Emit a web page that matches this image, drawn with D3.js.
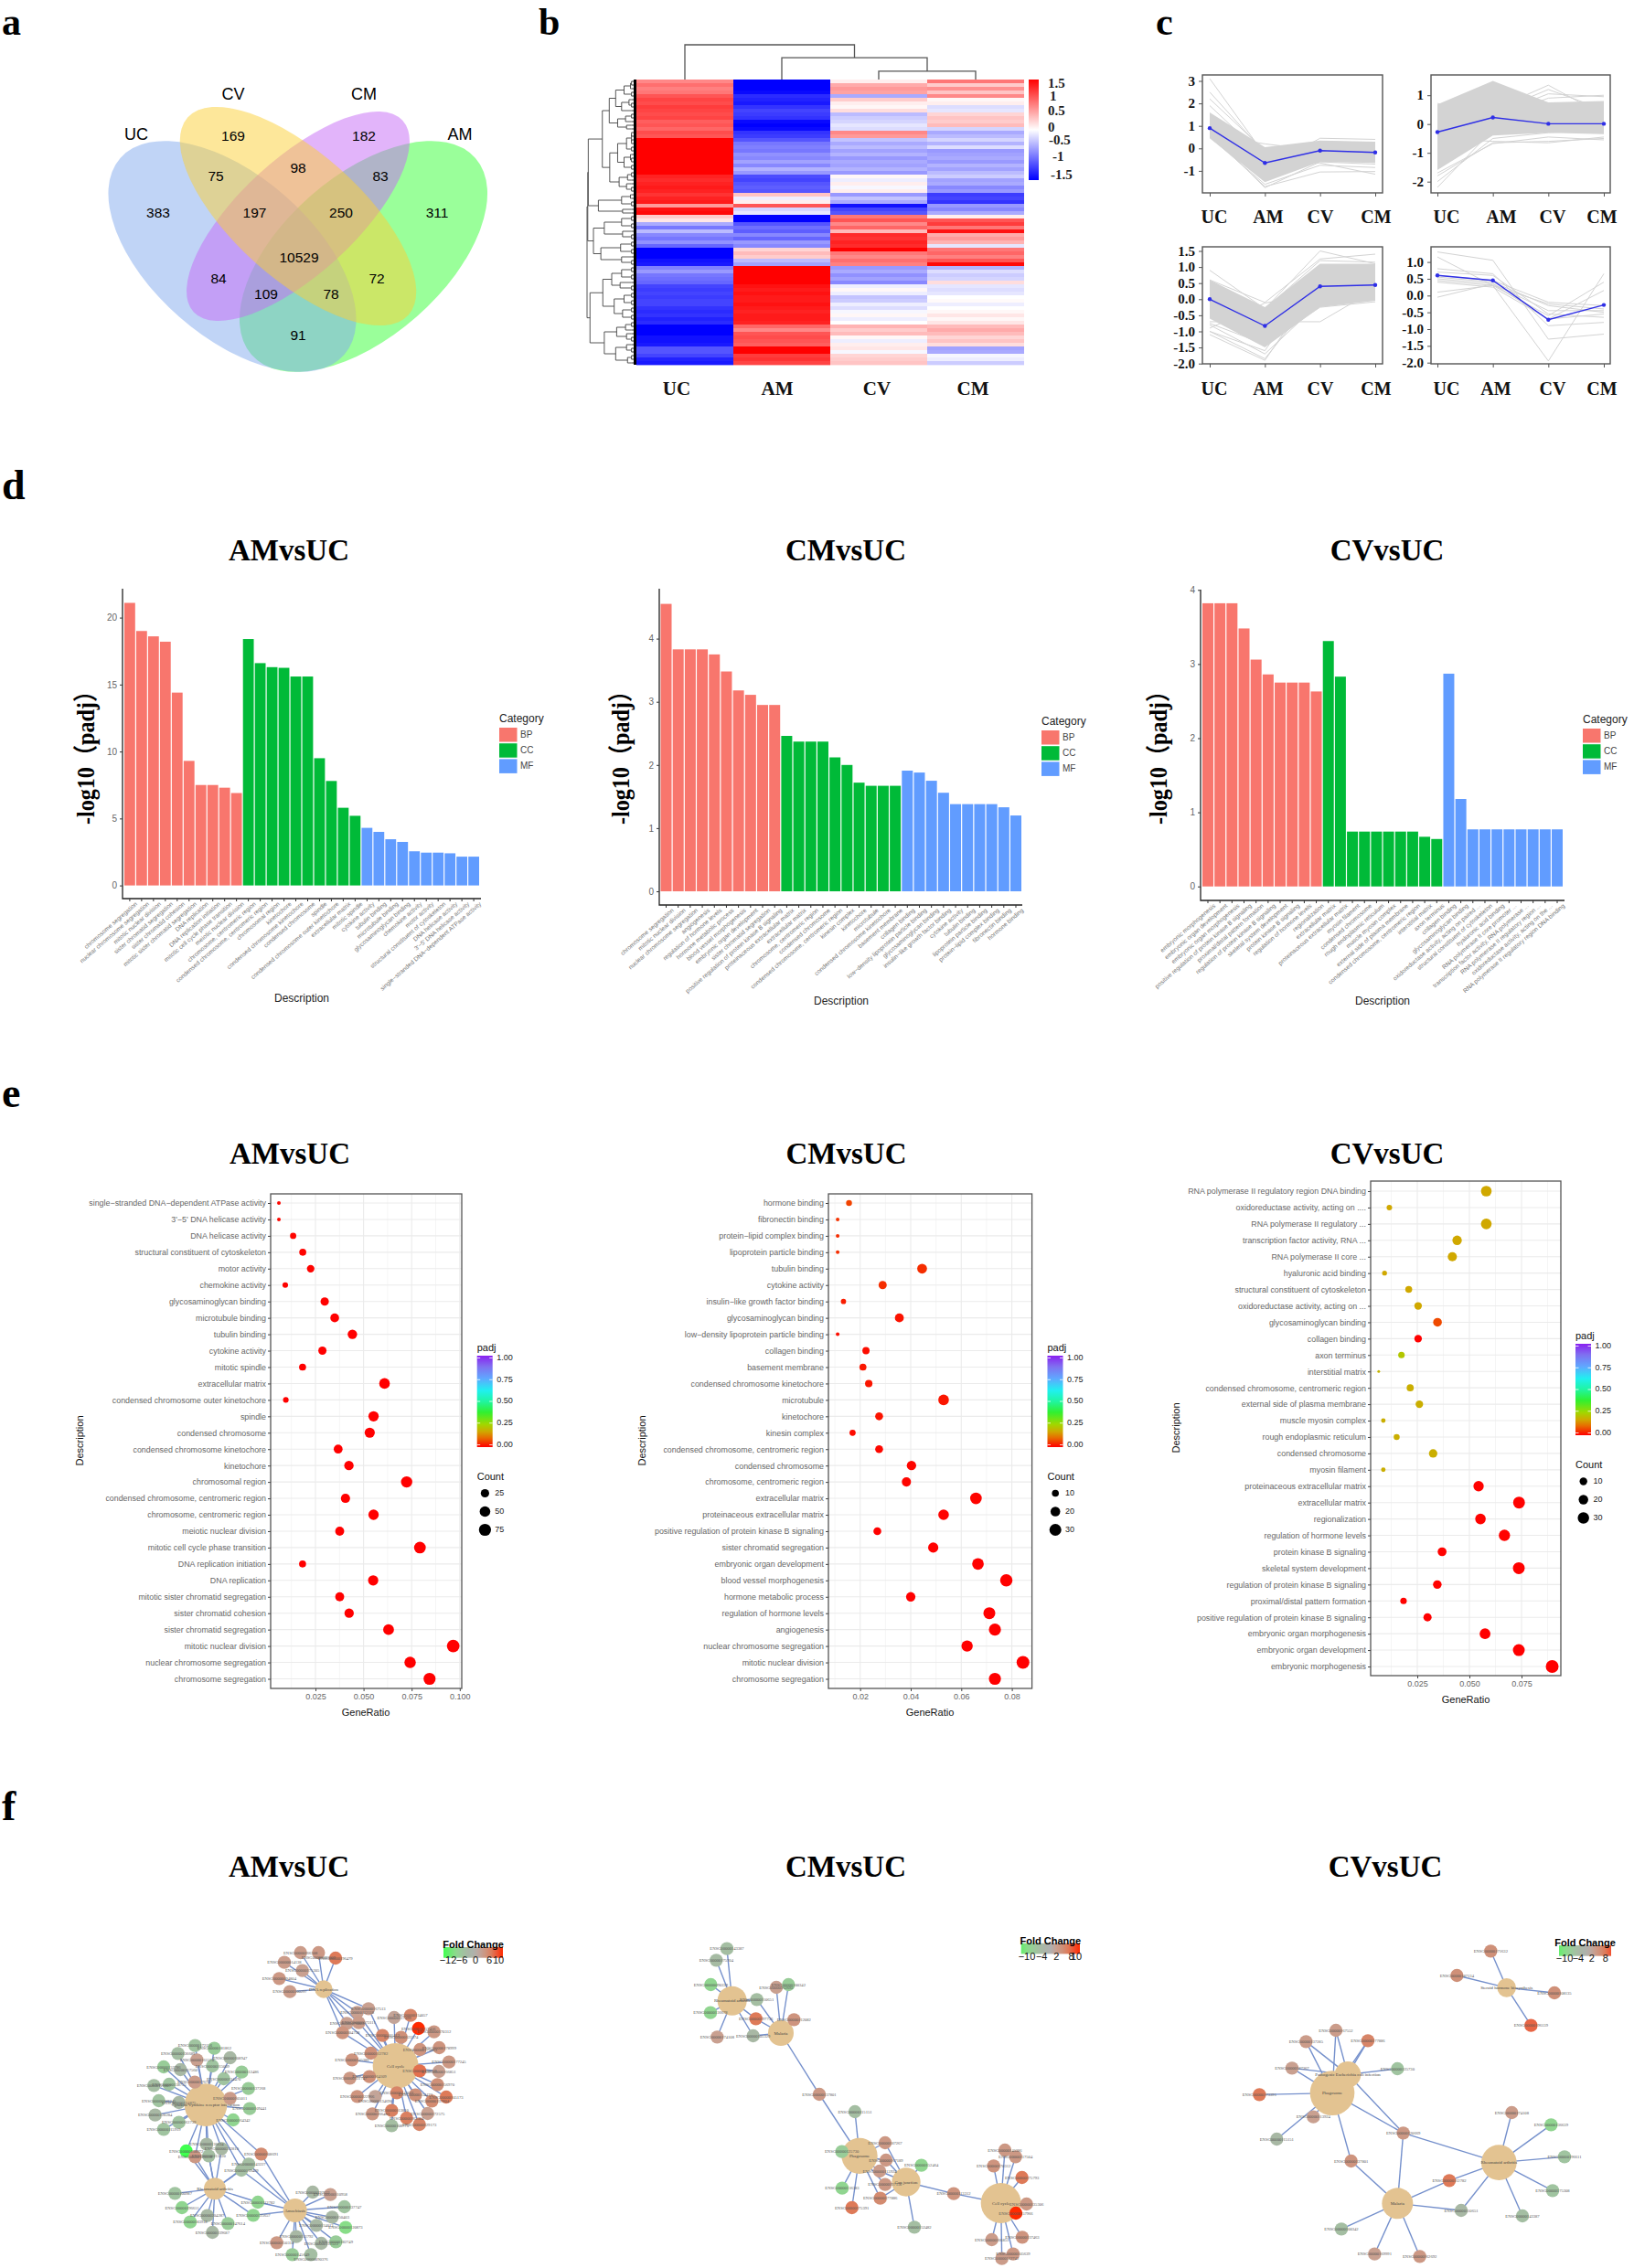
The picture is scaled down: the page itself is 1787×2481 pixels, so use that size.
<!DOCTYPE html>
<html><head><meta charset="utf-8">
<style>html,body{margin:0;padding:0;background:#fff}svg{display:block}</style>
<script src="https://cdn.jsdelivr.net/npm/d3@7"></script></head><body>
<svg id="fig" width="1787" height="2481"></svg>
<script>
/* ---------- DATA ---------- */
const SERIF="'Liberation Serif','Noto Sans CJK SC',serif", SANS="'Liberation Sans',Arial,sans-serif";
const panelLetters=["a","b","c","d","e","f"];
const vennSets=["UC","CV","CM","AM"];
const vennCounts=[169,182,75,98,83,383,197,250,311,10529,84,72,109,78,91];
const groups=["UC","AM","CV","CM"];
const heatUC=[.7,.85,.75,.8,1,1.1,1.05,1.15,1.1,1.05,1.1,.95,1,.9,1.05,1,1.5,1.5,1.5,1.5,1.5,1.5,1.5,1.5,1.5,1.5,1.3,1.25,1.3,1.35,1.3,1.2,1.3,1.35,.6,1.4,1.45,.3,.15,-.5,-.8,-.4,-.7,-.8,-.65,-.9,-1.5,-1.5,-1.5,-1.4,-1.35,-.75,-.6,-.8,-.85,-.9,-1.1,-1.15,-1.1,-1.15,-1.1,-1.1,-1.2,-1.25,-1.2,-1.3,-1.25,-1.5,-1.5,-1.5,-1.4,-1.4,-1.35,-1,-1,-1.1,-1.3,-1.35];
const heatAM=[-1.5,-1.5,-1.5,-1.45,-1.25,-1.3,-1.35,-1.2,-1.1,-1.15,-1.2,-1.45,-1.5,-1.45,-1.2,-1.15,-1,-.8,-.75,-.8,-.65,-.7,-.55,-.7,-.45,-.6,-1.05,-1.1,-1,-.95,-1,.35,-.1,.1,1,-.25,-.15,-1.5,-1.5,-1,-.85,-.95,-.7,-.9,-.6,-.7,.25,.4,.3,-.4,-.55,1.5,1.5,1.5,1.5,1.5,1.4,1.35,1.4,1.35,1.35,1.4,1.35,1.3,1.35,1.35,1.3,.9,.7,1,1.05,1,.95,1.5,1.5,1.15,1.2,1.1];
const heatCV=[.1,.5,.6,.55,-.5,.3,.1,.05,.2,-.4,-.3,-.25,-.15,-.2,.7,.6,-.35,-.5,-.4,-.55,-.45,-.6,-.5,-.55,-.45,-.6,.05,-.1,.1,-.05,.1,-.6,-.35,-.5,-1.4,-1.1,-1,.8,1,.7,.9,.4,1.25,1.2,1.3,1.25,1.5,.8,.7,.85,.75,-.6,-.5,-.65,-.55,-.7,-.1,.05,-.1,-.35,-.3,-.1,-.2,-.05,.05,-.1,0,.45,.3,.4,.05,-.1,.1,.15,-.05,.25,.3,.35];
const heatCM=[.8,.3,.65,.35,.7,.05,.1,-.2,-.15,.25,.35,.3,.4,-.25,-.5,-.4,-.25,-.45,-.2,-.6,-.55,-.5,-.6,-.45,-.55,-.4,-.3,-.55,-.5,-.7,-.6,-1.15,-1.1,-1.2,-.6,-.7,-.5,.1,1,1.15,.8,1.4,.5,.6,.45,-.15,.8,.9,.75,1,1.45,-.45,-.2,-.3,-.25,.2,-.15,-.2,-.15,0,.03,-.1,0,.05,.15,.05,.15,.4,.5,.4,.25,.35,.2,-.55,-.5,-.05,-.1,-.3];
const heatTicks=[1.5,1,.5,0,-.5,-1,-1.5];
const colTree=[1,"UC",[.63,"AM",[.24,"CV","CM"]]];
const rowA1a=[.55,[.42,[.25,[.12,2,1],2],[.3,[.15,1,2],1]],[.38,[.22,2,1],[.2,1,1]]];
const rowA1b=[.54,[.38,[.2,[.1,2,2],2],[.25,[.12,1,2],2]],[.35,[.18,2,1],[.2,1,2]]];
const rowA2=[.77,[.3,[.12,1,1],2],[.28,1,1]];
const rowB=[.87,[.65,[.3,2,2],[.28,1,2]],[.72,[.32,2,2],[.3,1,2]]];
const rowC=[.94,[.68,[.5,[.3,2,2],[.33,1,2]],[.45,[.25,2,2],[.28,2,[.1,1,1]]]],[.65,[.4,[.22,2,1],[.2,1,2]],[.42,[.2,1,2],[.18,2,1]]]];
const rowTree=[1,[.985,[.975,[.69,rowA1a,rowA1b],rowA2],rowB],rowC];

const k1Upper=[1.6,.05,.35,.3],k1Lower=[.45,-1.5,-.6,-.65],k1Mean=[.9,-.65,-.1,-.18];
const k1Lines=[[3.1,-.3,-.2,-.3],[2.5,-.2,.1,0],[2.2,-.1,-.15,-.1],[1.9,-.4,.2,.1],[.6,-1.7,-1.05,-1.03],[.5,-1.6,-.75,-.85],[.7,-1.75,-.6,-.7],[.5,-.5,-.65,-1.15],[.9,-.9,.45,.4],[.8,-.6,.3,.25],[.6,.2,-.1,.1]];
const k2Upper=[.68,1.5,.75,.8],k2Lower=[-1.6,-.4,-.3,-.35],k2Mean=[-.28,.23,.01,.01];
const k2Lines=[[-2.2,-.2,-.1,-.3],[-2,-.5,-.3,-.2],[-1.8,-.65,-.6,-.5],[-1.7,-.68,-.45,-.55],[.1,.5,1.35,.3],[0,.4,1.2,.5],[-.3,.3,1.05,.95],[.2,.2,.9,1],[-.5,-.6,-.65,-.45],[.72,.1,.2,.4]];
const k3Upper=[.6,-.25,1.1,1.1],k3Lower=[-.6,-1.5,-.25,-.05],k3Mean=[0,-.83,.4,.44];
const k3Lines=[[.9,-.3,1.5,1.1],[-1.1,-1.9,.6,.9],[-1,-1.85,.3,.2],[-.7,-.7,-.7,.3],[-.8,-1.7,-.1,.1],[.6,-.1,1.25,1.4],[-.9,-.12,.2,.1],[-1,-1.6,.9,1],[-.75,-1.4,-.25,-.08],[.3,-.3,1.2,1.15]];
const k4Mean=[.6,.45,-.72,-.28];
const k4Lines=[[1.3,1.05,-1.3,-1.15],[1.15,.3,-1.95,.65],[.8,.65,-.9,-.8],[.7,.6,-.55,-.65],[.6,.45,-.2,-.3],[.55,.4,-.3,-.5],[.5,.35,-.45,-.45],[.45,.3,-.6,.4],[.4,.25,-.7,.15],[.1,.3,-.25,-.4],[-.05,.35,-.7,-.55]];

const barCategories=["BP","CC","MF"];
const amBarTerms=["chromosome segregation","nuclear chromosome segregation","mitotic nuclear division","sister chromatid segregation","sister chromatid cohesion","mitotic sister chromatid segregation","DNA replication","DNA replication initiation","mitotic cell cycle phase transition","meiotic nuclear division","chromosome, centromeric region","condensed chromosome, centromeric region","chromosomal region","kinetochore","condensed chromosome kinetochore","condensed chromosome","spindle","condensed chromosome outer kinetochore","extracellular matrix","mitotic spindle","cytokine activity","tubulin binding","microtubule binding","glycosaminoglycan binding","chemokine activity","motor activity","structural constituent of cytoskeleton","DNA helicase activity","3'−5' DNA helicase activity","single−stranded DNA−dependent ATPase activity"];
const amBarValues=[21.1,19,18.6,18.2,14.4,9.3,7.5,7.5,7.3,6.9,18.4,16.6,16.3,16.25,15.6,15.6,9.5,7.8,5.8,5.2,4.3,4,3.45,3.25,2.55,2.45,2.45,2.4,2.15,2.15];
const cmBarTerms=["chromosome segregation","mitotic nuclear division","nuclear chromosome segregation","angiogenesis","regulation of hormone levels","hormone metabolic process","blood vessel morphogenesis","embryonic organ development","sister chromatid segregation","positive regulation of protein kinase B signaling","proteinaceous extracellular matrix","extracellular matrix","chromosome, centromeric region","condensed chromosome","condensed chromosome, centromeric region","kinesin complex","kinetochore","microtubule","condensed chromosome kinetochore","basement membrane","collagen binding","low−density lipoprotein particle binding","glycosaminoglycan binding","insulin−like growth factor binding","cytokine activity","tubulin binding","lipoprotein particle binding","protein−lipid complex binding","fibronectin binding","hormone binding"];
const cmBarValues=[4.55,3.83,3.83,3.83,3.75,3.48,3.18,3.11,2.95,2.95,2.46,2.37,2.37,2.37,2.12,2,1.72,1.67,1.67,1.67,1.91,1.88,1.75,1.56,1.38,1.38,1.38,1.38,1.33,1.2];
const cvBarTerms=["embryonic morphogenesis","embryonic organ development","embryonic organ morphogenesis","positive regulation of protein kinase B signaling","proximal/distal pattern formation","regulation of protein kinase B signaling","skeletal system development","protein kinase B signaling","regulation of hormone levels","regionalization","extracellular matrix","proteinaceous extracellular matrix","myosin filament","condensed chromosome","rough endoplasmic reticulum","muscle myosin complex","external side of plasma membrane","condensed chromosome, centromeric region","interstitial matrix","axon terminus","collagen binding","glycosaminoglycan binding","oxidoreductase activity, acting on paired ...","structural constituent of cytoskeleton","hyaluronic acid binding","RNA polymerase II core promoter ...","transcription factor activity, RNA polymerase ...","RNA polymerase II regulatory region ...","oxidoreductase activity, acting on the ...","RNA polymerase II regulatory region DNA binding"];
const cvBarValues=[3.82,3.82,3.82,3.48,3.06,2.86,2.75,2.75,2.75,2.63,3.31,2.83,.74,.74,.74,.74,.74,.74,.67,.64,2.87,1.18,.77,.77,.77,.77,.77,.77,.77,.77];

const amDotTerms=["single−stranded DNA−dependent ATPase activity","3'−5' DNA helicase activity","DNA helicase activity","structural constituent of cytoskeleton","motor activity","chemokine activity","glycosaminoglycan binding","microtubule binding","tubulin binding","cytokine activity","mitotic spindle","extracellular matrix","condensed chromosome outer kinetochore","spindle","condensed chromosome","condensed chromosome kinetochore","kinetochore","chromosomal region","condensed chromosome, centromeric region","chromosome, centromeric region","meiotic nuclear division","mitotic cell cycle phase transition","DNA replication initiation","DNA replication","mitotic sister chromatid segregation","sister chromatid cohesion","sister chromatid segregation","mitotic nuclear division","nuclear chromosome segregation","chromosome segregation"];
const amDotRatio=[.006,.006,.0134,.0184,.0225,.0093,.0298,.035,.0442,.0286,.0183,.0609,.0096,.0552,.0532,.0368,.0424,.0724,.0406,.0552,.0376,.0793,.0183,.055,.0376,.0425,.063,.0966,.0742,.0843];
const amDotCount=[5,5,12,17,21,9,28,33,41,27,17,57,9,52,50,34,40,68,38,52,35,74,17,51,35,40,59,90,69,79];
const amDotPadj=[.007,.007,.004,.004,.003,.003,.0006,.0003,.0001,.00005,.00001,.00001,.00001,.00001,.00001,.00001,.00001,.00001,.00001,.00001,.00001,.00001,.00001,.00001,.00001,.00001,.00001,.00001,.00001,.00001];
const cmDotTerms=["hormone binding","fibronectin binding","protein−lipid complex binding","lipoprotein particle binding","tubulin binding","cytokine activity","insulin−like growth factor binding","glycosaminoglycan binding","low−density lipoprotein particle binding","collagen binding","basement membrane","condensed chromosome kinetochore","microtubule","kinetochore","kinesin complex","condensed chromosome, centromeric region","condensed chromosome","chromosome, centromeric region","extracellular matrix","proteinaceous extracellular matrix","positive regulation of protein kinase B signaling","sister chromatid segregation","embryonic organ development","blood vessel morphogenesis","hormone metabolic process","regulation of hormone levels","angiogenesis","nuclear chromosome segregation","mitotic nuclear division","chromosome segregation"];
const cmDotRatio=[.0156,.0111,.0111,.0111,.0445,.0289,.0134,.0355,.0111,.0223,.0211,.0234,.053,.0275,.017,.0275,.0403,.0383,.0658,.053,.0268,.0489,.0666,.0778,.04,.0711,.0733,.0623,.0844,.0733];
const cmDotCount=[7,5,5,5,20,13,6,16,5,10,9.5,10.5,24,12,7.5,12,18,17,30,24,12,22,30,35,18,32,33,28,38,33];
const cmDotPadj=[.063,.047,.042,.042,.042,.042,.027,.017,.013,.012,.022,.021,.021,.019,.01,.0076,.0043,.0043,.0034,.0034,.0011,.0011,.0013,.0007,.0003,.0002,.00015,.00015,.00015,.00003];
const cvDotTerms=["RNA polymerase II regulatory region DNA binding","oxidoreductase activity, acting on ....","RNA polymerase II regulatory ...","transcription factor activity, RNA ...","RNA polymerase II core ...","hyaluronic acid binding","structural constituent of cytoskeleton","oxidoreductase activity, acting on ...","glycosaminoglycan binding","collagen binding","axon terminus","interstitial matrix","condensed chromosome, centromeric region","external side of plasma membrane","muscle myosin complex","rough endoplasmic reticulum","condensed chromosome","myosin filament","proteinaceous extracellular matrix","extracellular matrix","regionalization","regulation of hormone levels","protein kinase B signaling","skeletal system development","regulation of protein kinase B signaling","proximal/distal pattern formation","positive regulation of protein kinase B signaling","embryonic organ morphogenesis","embryonic organ development","embryonic morphogenesis"];
const cvDotRatio=[.0581,.0116,.0581,.0441,.0418,.0093,.0209,.0254,.0347,.0254,.0174,.0065,.0216,.026,.0087,.0151,.0326,.0087,.0544,.0738,.0553,.0668,.0369,.0737,.0346,.0184,.0299,.0575,.0737,.0897];
const cvDotCount=[23,5,23,17,16,4,8,10,14,10,7,2.5,8.5,10,3.5,6,13,3.5,21,29,22,26,14.5,29,13.5,7,12,23,29,35];
const cvDotPadj=[.17,.17,.17,.17,.17,.17,.17,.17,.07,.0013,.22,.19,.18,.18,.18,.18,.18,.18,.0015,.0015,.0023,.0018,.0018,.0018,.0015,.0015,.00033,.00015,.00015,.00015];
const padjLegendTicks=[1,.75,.5,.25,0];

/* gene tuples: layout x, layout y, fold change, id suffix, hubs linked, optional label shift */
const amHubs=[[998,540,75,"Cell cycle"],[762,288,29,"DNA replication"],[375,668,70,"Cytokine-cytokine receptor interaction"],[405,943,36,"Rheumatoid arthritis"],[668,1014,39,"Amoebiasis"]];
const amGenes=[[686,168,2.5,"166508",[1]],[745,168,3,"093009",[1],5],[801,186,6,"196479",[1]],[633,200,2.5,"014138",[1]],[692,227,2,"175305",[1]],[616,253,3,"094804",[1]],[651,296,2.5,"100297",[1]],
[909,352,2,"167513",[1,0]],[872,364,2,"112118",[1,0]],[838,400,2,"076003",[1,0]],[877,398,2.5,"073111",[1,0]],[824,431,3.5,"104738",[1,0]],
[993,381,1.5,"117399",[0]],[1047,374,5,"134057",[0]],[1073,417,10,"157456",[0]],[1124,428,3,"170312",[0]],[955,440,5,"101412",[0]],[1016,446,4,"123374",[0]],[1078,486,3.5,"175063",[0]],[1141,480,3.5,"178999",[0]],[917,498,4,"112782",[0]],[855,520,3.5,"145386",[0]],[1173,527,3,"177245",[0]],[1077,556,6.5,"159259",[0]],[1140,558,2,"166851",[0]],[848,580,3,"131747",[0]],[912,575,4,"164109",[0]],[1135,601,4,"156970",[0]],[1164,642,6,"105173",[0]],[872,640,3.5,"122966",[0]],[931,640,1.5,"134690",[0],5],[1002,628,5,"143621",[0]],[1063,635,4,"154473",[0]],[1117,655,4.5,"137804",[0]],[1103,696,2,"172575",[0]],[985,686,5.5,"113810",[0]],[922,697,3,"166483",[0]],[1034,711,5.5,"165304",[0]],[1076,732,5,"129173",[0]],[985,736,-4,"108773",[0]],
[340,473,-5,"172156",[2]],[403,482,-6,"181862",[2]],[284,499,-4,"136689",[2]],[455,513,-3,"108947",[2]],[346,520,2,"161570",[2]],[397,540,-5,"115009",[2]],[237,543,-6,"153786",[2]],[292,552,-3,"117560",[2]],[493,560,-6,"112486",[2]],[434,582,-5,"134470",[2]],[205,604,-4,"121807",[2]],[255,600,-5,"138755",[2]],[339,593,2.5,"176767",[2]],[515,614,-6,"137268",[2]],[455,646,2.5,"105011",[2]],[221,654,-5,"169245",[2]],[287,660,-3,"124875",[2]],[519,680,-6,"109441",[2]],[209,701,-3,"128284",[2]],[465,717,-7,"164342",[2]],[287,725,-5,"163739",[2]],[237,748,-5,"115919",[2]],
[311,819,-12,"118972",[2,3]],[340,838,3,"125538",[2,3]],[378,797,-3,"136634",[2,3]],[385,835,-4,"113520",[2,3]],[427,811,-3,"232810",[2,3]],
[557,829,4.5,"108691",[2,4]],[516,862,-4,"143227",[2,3,4]],[492,882,-4,"169429",[2,3,4]],
[274,958,-5,"100987",[3]],[297,1005,-7,"196611",[3]],[380,1031,-3,"204287",[3]],[324,1052,-7,"183918",[3]],[448,1057,-6,"147614",[3]],[397,1086,-3,"139687",[3]],
[546,987,-7,"112782",[3,4]],[531,1030,-7,"125657",[3,4]],
[726,954,-3,"197632",[4]],[784,962,2,"110958",[4]],[830,1002,-5,"137747",[4]],[790,1036,-3,"150403",[4]],[738,1063,-3,"134013",[4]],[834,1070,-8,"120873",[4]],[672,1100,-3,"113792",[4]],[608,1120,3,"150318",[4]],[754,1122,-3,"131522",[4]],[802,1117,-6,"182749",[4]],[659,1159,-6,"145649",[4]],[720,1159,-4,"090376",[4],5]];
const amFcTicks=[-12,-6,0,6,10];
const cmHubs=[[362,326,48,"Rheumatoid arthritis"],[522,432,42,"Malaria"],[780,835,59,"Phagosome"],[933,921,47,"Gap junction"],[1244,990,66,"Cell cycle"]];
const cmGenes=[[345,155,-4,"143387",[0]],[310,193,-3.5,"175704",[0]],[292,273,-7,"090339",[0]],[291,365,-7,"136678",[0]],[313,445,2,"174108",[0]],
[443,322,-4,"110651",[0,1]],[440,385,6,"197736",[0,1]],[431,441,-3,"105329",[0,1]],
[507,282,2,"162692",[1]],[547,273,-6,"100342",[1]],[565,388,3.5,"112082",[1]],
[648,633,3,"137801",[1,2]],
[765,690,-4,"115151",[2]],[722,821,-6,"125730",[2]],[723,941,-7,"136383",[2]],[755,1005,6,"175391",[2]],
[864,792,3,"187267",[2,3]],[867,849,3,"167189",[2,3]],[846,885,2.5,"113924",[2,3]],[864,929,3,"127152",[2,3]],[848,974,4.5,"177886",[2,3]],
[983,866,-7,"152464",[3]],[960,1069,-4,"152482",[3]],
[1089,959,3.5,"113312",[3,4]],
[1257,816,3,"145386",[4]],[1292,838,3,"117504",[4]],[1220,868,3.5,"170312",[4]],[1313,906,6,"175793",[4]],[1328,993,3,"135306",[4]],[1293,1023,10,"157966",[4]],[1314,1102,3.5,"137463",[4]],[1214,1110,2.5,"166851",[4]],[1284,1157,3,"105639",[4]],[1247,1172,2.5,"112742",[4]]];
const cmFcTicks=[-10,-4,2,8,10];
const cvHubs=[[1043,283,31,"Steroid hormone biosynthesis"],[522,568,43,"Pathogenic Escherichia coli infection"],[471,629,73,"Phagosome"],[685,991,51,"Malaria"],[1018,857,58,"Rheumatoid arthritis"]];
const cvGenes=[[991,163,4,"171632",[0]],[880,243,4,"187134",[0]],[1200,300,4,"108135",[0]],[1123,407,7,"196139",[0]],
[483,423,2.5,"167552",[1,2]],[385,460,2.5,"137285",[1,2]],[588,457,5,"177886",[1,2]],[339,547,2,"187367",[1,2]],
[232,634,6,"173391",[2]],[409,707,2,"113924",[2]],[289,780,-3,"115151",[2]],
[685,549,-5,"125730",[1]],
[704,760,3,"120669",[1,2,3,4]],[533,852,3.5,"137801",[2,3]],
[855,916,6,"112782",[3,4]],[894,1014,-3,"110651",[3,4]],
[501,1075,-4,"100342",[3]],[610,1157,2,"169991",[3]],[758,1165,3,"162692",[3]],
[1060,693,2.5,"174108",[4]],[1189,733,-7,"136639",[4]],[1233,838,-5,"196611",[4]],[1194,949,-5,"175308",[4]],[1095,1032,-4,"143387",[4]]];
const cvFcTicks=[-10,-4,2,8];

/* ---------- HELPERS ---------- */
const svg=d3.select("#fig");
function text(g,x,y,s,o={}){const t=g.append("text").attr("x",x).attr("y",y).text(s)
  .attr("font-family",o.family||SANS).attr("font-size",o.size||10).attr("fill",o.fill||"#000")
  .attr("text-anchor",o.anchor||"start");
  if(o.weight)t.attr("font-weight",o.weight);
  if(o.rotate!=null)t.attr("transform",`rotate(${o.rotate} ${x} ${y})`);
  if(o.base)t.attr("dominant-baseline",o.base);
  return t;}
function clean(sel){sel.select(".domain").remove();return sel;}

/* panel letters */
[[2,38,42],[589,38,42],[1264,38,42],[2,546,46],[2,1211,46],[2,1991,46]].forEach((p,i)=>
  text(svg,p[0],p[1],panelLetters[i],{family:SERIF,size:p[2],weight:"bold"}));

/* ---------- a: VENN ---------- */
(function(){
 const g=svg.append("g");
 const shapes={AM:[397.5,280.5,163,88,-41.3,"#35ff35"],UC:[254,280.5,163,88,41.3,"#81a9ed"],CM:[326,236.5,155,63,-42.5,"#c569f5"],CV:[326,236.5,162,69,41.8,"#fbcf35"]};
 ["AM","UC","CM","CV"].forEach(k=>{const s=shapes[k];
  g.append("ellipse").attr("cx",s[0]).attr("cy",s[1]).attr("rx",s[2]).attr("ry",s[3])
   .attr("transform",`rotate(${s[4]} ${s[0]} ${s[1]})`).attr("fill",s[5]).attr("fill-opacity",.5);});
 const lp=[[149,147],[255,103],[398,103],[503,147]];
 vennSets.forEach((s,i)=>text(g,lp[i][0],lp[i][1]+6,s,{size:18,anchor:"middle"}));
 const cp=[[255,148],[398,148],[236,192],[326,183],[416,192],[173,232],[278.5,232],[373,232],[478,232],[327,281],[239,304],[412,304],[291,321],[362,321],[326,366]];
 vennCounts.forEach((c,i)=>text(g,cp[i][0],cp[i][1]+5.5,c,{size:15.5,anchor:"middle"}));
})();

/* ---------- b: HEATMAP ---------- */
(function(){
 const g=svg.append("g");
 const heat=[heatUC,heatAM,heatCV,heatCM];
 const x=d3.scaleBand().domain(groups).range([696,1120]);
 const y=d3.scaleBand().domain(d3.range(heatUC.length)).range([87,399]);
 const col=d3.scaleLinear().domain([-1.5,0,1.5]).range(["#0000ff","#ffffff","#ff0000"]);
 groups.forEach((n,j)=>g.selectAll(null).data(heat[j]).join("rect")
   .attr("x",x(n)).attr("width",x.bandwidth()).attr("y",(d,i)=>y(i)).attr("height",y.bandwidth()+.4)
   .attr("fill",d=>col(d)));
 const hT=d3.scaleLinear().domain([0,1]).range([87,49]);
 (function walk(n){ if(typeof n==="string")return {x:x(n)+x.bandwidth()/2,h:0};
   const a=walk(n[1]),b=walk(n[2]);
   g.append("path").attr("d",`M${a.x},${hT(a.h)}V${hT(n[0])}H${b.x}V${hT(b.h)}`).attr("fill","none").attr("stroke","#555").attr("stroke-width",1.3);
   return {x:(a.x+b.x)/2,h:n[0]};})(colTree);
 const hL=d3.scaleLinear().domain([0,1]).range([696,642]);
 let row=0;
 (function walk(n){ if(typeof n==="number"){const r0=row;row+=n;
     for(let i=r0;i<row;i++)g.append("path").attr("d",`M${hL(.1)},${y(i)+2}H696`).attr("stroke","#222").attr("stroke-width",.9);
     g.append("path").attr("d",`M${hL(.1)},${y(r0)+2}V${y(row-1)+2}`).attr("stroke","#333").attr("stroke-width",.8);
     return {y:y(r0)+(y(row-1)-y(r0))/2+2,h:.1};}
   const a=walk(n[1]),b=walk(n[2]);
   g.append("path").attr("d",`M${hL(a.h)},${a.y}H${hL(n[0])}V${b.y}H${hL(b.h)}`).attr("fill","none").attr("stroke","#444").attr("stroke-width",.9);
   return {y:(a.y+b.y)/2,h:n[0]};})(rowTree);
 g.append("rect").attr("x",693).attr("y",87).attr("width",3).attr("height",312).attr("fill","#000");
 const defs=svg.append("defs"),lg=defs.append("linearGradient").attr("id","heatGrad").attr("x1",0).attr("x2",0).attr("y1",1).attr("y2",0);
 [[0,"#0000ff"],[.5,"#ffffff"],[1,"#ff0000"]].forEach(s=>lg.append("stop").attr("offset",s[0]).attr("stop-color",s[1]));
 g.append("rect").attr("x",1125).attr("y",87).attr("width",11).attr("height",110).attr("fill","url(#heatGrad)");
 const ty=[96,110,126,144,158,176,196], tx=[1146,1148,1146,1146,1147,1151,1149];
 heatTicks.forEach((t,i)=>text(g,tx[i],ty[i],String(t),{family:SERIF,size:15,weight:"bold",fill:"#222"}));
 groups.forEach((n,i)=>text(g,[740,850,959,1064][i],432,n,{family:SERIF,size:21,weight:"bold",anchor:"middle",fill:"#111"}));
})();

/* ---------- c: CLUSTER PROFILES ---------- */
function profile(o){
 const g=svg.append("g");
 const x=d3.scalePoint().domain(groups).range(o.xr);
 const y=d3.scaleLinear().domain([0,1]).range([o.y0,o.y0-o.ppu]);
 if(o.up){const area=d3.area().x((d,i)=>x(groups[i])).y0((d,i)=>y(o.low[i])).y1(d=>y(d));
   g.append("path").datum(o.up).attr("d",area).attr("fill","#d3d3d3");}
 const line=d3.line().x((d,i)=>x(groups[i])).y(d=>y(d));
 g.selectAll(null).data(o.lines).join("path").attr("d",line).attr("fill","none").attr("stroke","#d3d3d3").attr("stroke-width",1);
 g.append("path").datum(o.mean).attr("d",line).attr("fill","none").attr("stroke","#2f2fe6").attr("stroke-width",1.4);
 g.selectAll(null).data(o.mean).join("circle").attr("cx",(d,i)=>x(groups[i])).attr("cy",d=>y(d)).attr("r",2.2).attr("fill","#2f2fe6");
 g.append("rect").attr("x",o.box[0]).attr("y",o.box[1]).attr("width",o.box[2]-o.box[0]).attr("height",o.box[3]-o.box[1]).attr("fill","none").attr("stroke","#555").attr("stroke-width",1.4);
 const ax=g.append("g").attr("transform",`translate(0,${o.box[3]})`).call(d3.axisBottom(x).tickSize(4).tickFormat(""));
 clean(ax).selectAll("line").attr("stroke","#555");
 const ay=g.append("g").attr("transform",`translate(${o.box[0]},0)`).call(d3.axisLeft(y).tickValues(o.ticks).tickSize(4).tickFormat(""));
 clean(ay).selectAll("line").attr("stroke","#555");
 o.ticks.forEach(t=>text(g,o.box[0]-8,y(t)+5,d3.format(o.fmt)(t).replace("−","-"),{family:SERIF,size:15,weight:"bold",anchor:"end",fill:"#111"}));
 groups.forEach((n,i)=>text(g,o.lx[i],o.ly,n,{family:SERIF,size:20,weight:"bold",anchor:"middle",fill:"#111"}));
}
profile({xr:[1323,1504],box:[1315,82,1512,211],y0:162.3,ppu:24.6,ticks:[3,2,1,0,-1],fmt:"d",up:k1Upper,low:k1Lower,lines:k1Lines,mean:k1Mean,lx:[1328,1387,1444,1505],ly:244});
profile({xr:[1572,1754],box:[1565,82,1761,211],y0:135.7,ppu:31.5,ticks:[1,0,-1,-2],fmt:"d",up:k2Upper,low:k2Lower,lines:k2Lines,mean:k2Mean,lx:[1582,1642,1698,1752],ly:244});
profile({xr:[1323,1504],box:[1315,270,1512,398],y0:327.3,ppu:35.2,ticks:[1.5,1,.5,0,-.5,-1,-1.5,-2],fmt:".1f",up:k3Upper,low:k3Lower,lines:k3Lines,mean:k3Mean,lx:[1328,1387,1444,1505],ly:432});
profile({xr:[1572,1754],box:[1565,270,1761,398],y0:323.3,ppu:36.7,ticks:[1,.5,0,-.5,-1,-1.5,-2],fmt:".1f",lines:k4Lines,mean:k4Mean,lx:[1582,1636,1698,1752],ly:432});

/* ---------- d: BARS ---------- */
const catColor=d3.scaleOrdinal().domain(barCategories).range(["#F8766D","#00BA38","#619CFF"]);
function bars(o){
 const g=svg.append("g");
 text(g,o.titleX,613,o.title,{family:SERIF,size:33,weight:"bold",anchor:"middle"});
 const x=d3.scaleBand().domain(d3.range(o.values.length)).range(o.xr).paddingInner(.09);
 const y=d3.scaleLinear().domain([0,1]).range([o.y0,o.y0-o.ppu]);
 g.selectAll(null).data(o.values).join("rect").attr("x",(d,i)=>x(i)).attr("width",x.bandwidth())
  .attr("y",d=>y(d)).attr("height",d=>y(0)-y(d)).attr("fill",(d,i)=>catColor(barCategories[Math.floor(i/10)]));
 g.append("path").attr("d",`M${o.ax},${o.top}V${o.bottom}H${o.right}`).attr("fill","none").attr("stroke","#222").attr("stroke-width",1.3);
 const ay=g.append("g").attr("transform",`translate(${o.ax},0)`).call(d3.axisLeft(y).tickValues(o.ticks).tickSize(3).tickFormat(d3.format("d")));
 clean(ay).selectAll("text").attr("font-family",SANS).attr("font-size",10).attr("fill","#666");
 ay.selectAll("line").attr("stroke","#333");
 const ax=g.append("g").attr("transform",`translate(0,${o.bottom})`).call(d3.axisBottom(x).tickSize(3).tickFormat(i=>o.terms[i]));
 clean(ax).selectAll("line").attr("stroke","#333");
 ax.selectAll("text").attr("font-family",SANS).attr("font-size",6.6).attr("fill","#777").attr("text-anchor","end")
   .attr("transform","translate(3,0) rotate(-41)").attr("dy","0.4em").attr("dx","0");
 text(g,o.descX,o.descY,"Description",{size:12,anchor:"middle",fill:"#222",base:"middle"});
 text(g,o.ylabX,823,"-log10（padj）",{family:SERIF,size:27,weight:"bold",anchor:"middle",rotate:-90,base:"middle"})
   .attr("textLength",158).attr("lengthAdjust","spacingAndGlyphs");
 text(g,o.legX,o.legY,"Category",{size:12,fill:"#222"});
 barCategories.forEach((c,i)=>{g.append("rect").attr("x",o.legX).attr("y",o.legY+6+i*17.2).attr("width",19.5).attr("height",15.5).attr("fill",catColor(c));
   text(g,o.legX+23,o.legY+14+i*17.2,c,{size:10,fill:"#444",base:"middle"});});
}
bars({title:"AMvsUC",titleX:316,terms:amBarTerms,values:amBarValues,xr:[136,524],y0:968.6,ppu:14.65,ticks:[0,5,10,15,20],ax:134,top:644,bottom:983,right:526,descX:330,descY:1093,ylabX:97,legX:546,legY:790});
bars({title:"CMvsUC",titleX:925,terms:cmBarTerms,values:cmBarValues,xr:[722.5,1117],y0:975,ppu:69.1,ticks:[0,1,2,3,4],ax:721,top:644,bottom:990,right:1118,descX:920,descY:1096,ylabX:682,legX:1139,legY:793});
bars({title:"CVvsUC",titleX:1517,terms:cvBarTerms,values:cvBarValues,xr:[1315,1709],y0:969.7,ppu:81.1,ticks:[0,1,2,3,4],ax:1313,top:645,bottom:985,right:1711,descX:1512,descY:1096,ylabX:1270,legX:1731,legY:791});

/* ---------- e: DOT PLOTS ---------- */
const padjColor=d3.scaleLinear().domain([0,.1,.17,.25,.38,.5,.62,.75,.88,1]).range(["#ff0000","#e86a00","#d0a800","#a0d800","#30f030","#20f5a0","#20f0f0","#5fa8ff","#7f70f0","#8a20f0"]);
(function(){const lg=svg.append("defs").append("linearGradient").attr("id","padjGrad").attr("x1",0).attr("x2",0).attr("y1",1).attr("y2",0);
 padjColor.domain().forEach(v=>lg.append("stop").attr("offset",v).attr("stop-color",padjColor(v)));})();
function dots(o){
 const g=svg.append("g");
 text(g,o.titleX,1273,o.title,{family:SERIF,size:33,weight:"bold",anchor:"middle"});
 const [L,R,T,B]=o.box;
 const x=d3.scaleLinear().domain(o.xd).range(o.xr);
 const y=d3.scalePoint().domain(d3.range(o.terms.length)).range(o.yr);
 const cmin=d3.min(o.count),cmax=d3.max(o.count);
 const rel=d3.scaleLinear().domain([cmin,cmax]).range([0,1]);
 const r=c=>o.rmin+(o.rmax-o.rmin)*Math.sqrt(rel(c));
 const step=o.xd[1]-o.xd[0];
 const tv=d3.range(o.nt).map(i=>o.xd[0]+i*step);
 const minor=d3.range(-1,o.nt+1).map(i=>o.xd[0]+(i+.5)*step).filter(v=>x(v)>L&&x(v)<R);
 g.selectAll(null).data(minor).join("line").attr("x1",d=>x(d)).attr("x2",d=>x(d)).attr("y1",T).attr("y2",B).attr("stroke","#f3f3f3").attr("stroke-width",.8);
 g.selectAll(null).data(tv).join("line").attr("x1",d=>x(d)).attr("x2",d=>x(d)).attr("y1",T).attr("y2",B).attr("stroke","#ebebeb").attr("stroke-width",1.1);
 g.selectAll(null).data(o.terms).join("line").attr("x1",L).attr("x2",R).attr("y1",(d,i)=>y(i)).attr("y2",(d,i)=>y(i)).attr("stroke","#ebebeb").attr("stroke-width",1.1);
 g.selectAll(null).data(o.ratio).join("circle").attr("cx",d=>x(d)).attr("cy",(d,i)=>y(i)).attr("r",(d,i)=>r(o.count[i])).attr("fill",(d,i)=>padjColor(o.padj[i]));
 g.append("rect").attr("x",L).attr("y",T).attr("width",R-L).attr("height",B-T).attr("fill","none").attr("stroke","#555").attr("stroke-width",1.3);
 const ax=g.append("g").attr("transform",`translate(0,${B})`).call(d3.axisBottom(x).tickValues(tv).tickSize(3).tickFormat(d3.format(o.fmt)));
 clean(ax).selectAll("text").attr("font-family",SANS).attr("font-size",9).attr("fill","#666");
 ax.selectAll("line").attr("stroke","#444");
 const ay=g.append("g").attr("transform",`translate(${L},0)`).call(d3.axisLeft(y).tickSize(3).tickPadding(2).tickFormat(i=>o.terms[i]));
 clean(ay).selectAll("text").attr("font-family",SANS).attr("font-size",8.9).attr("fill","#666");
 ay.selectAll("line").attr("stroke","#444");
 text(g,o.grX,B+27,"GeneRatio",{size:11,anchor:"middle",fill:"#111",base:"middle"});
 text(g,o.dX,o.dY,"Description",{size:11,anchor:"middle",fill:"#111",rotate:-90,base:"middle"});
 const ly=o.leg[1];
 text(g,o.leg[0],ly-5,"padj",{size:11,fill:"#111"});
 g.append("rect").attr("x",o.leg[0]).attr("y",ly).attr("width",17).attr("height",100).attr("fill","url(#padjGrad)");
 const by=d3.scaleLinear().domain([0,1]).range([ly+97.5,ly+2.5]);
 padjLegendTicks.forEach(t=>{
   g.append("line").attr("x1",o.leg[0]).attr("x2",o.leg[0]+3.5).attr("y1",by(t)).attr("y2",by(t)).attr("stroke","#fff").attr("stroke-width",.8);
   g.append("line").attr("x1",o.leg[0]+13.5).attr("x2",o.leg[0]+17).attr("y1",by(t)).attr("y2",by(t)).attr("stroke","#fff").attr("stroke-width",.8);
   text(g,o.leg[0]+21.5,by(t),t.toFixed(2),{size:9,fill:"#222",base:"middle"});});
 text(g,o.leg[0],ly+136,"Count",{size:11,fill:"#111"});
 o.legCounts.forEach((c,i)=>{const cy=ly+150.5+i*20;
   g.append("circle").attr("cx",o.leg[0]+8.7).attr("cy",cy).attr("r",o.legR[i]).attr("fill","#000");
   text(g,o.leg[0]+19.5,cy,c,{size:9,fill:"#222",base:"middle"});});
}
dots({title:"AMvsUC",titleX:317,box:[296,505,1306,1847],xd:[.025,.05],xr:[345,397.6],nt:4,fmt:".3f",yr:[1316,1836.5],terms:amDotTerms,ratio:amDotRatio,count:amDotCount,padj:amDotPadj,rmin:2,rmax:6.9,grX:400,dX:88,dY:1576,leg:[521.7,1483],legCounts:[25,50,75],legR:[4.6,5.8,6.6]});
dots({title:"CMvsUC",titleX:925.5,box:[906,1128.6,1306,1847],xd:[.02,.04],xr:[940.7,996],nt:4,fmt:".2f",yr:[1316,1836.5],terms:cmDotTerms,ratio:cmDotRatio,count:cmDotCount,padj:cmDotPadj,rmin:2,rmax:7,grX:1017,dX:703,dY:1576,leg:[1145.5,1483],legCounts:[10,20,30],legR:[3.8,5.3,6.5]});
dots({title:"CVvsUC",titleX:1517,box:[1499,1707,1292,1833],xd:[.025,.05],xr:[1550,1607],nt:3,fmt:".3f",yr:[1303,1823],terms:cvDotTerms,ratio:cvDotRatio,count:cvDotCount,padj:cvDotPadj,rmin:1.5,rmax:7,grX:1603,dX:1287,dY:1562,leg:[1723,1470],legCounts:[10,20,30],legR:[4.2,5.2,6.2]});

/* ---------- f: NETWORKS ---------- */
const fcColor=d3.scaleLinear().domain([-12,-8,-5,-3,0,2,4,6,8,10]).range(["#40ff50","#88dd88","#a0c4a0","#a8b8a4","#b0b0b0","#c9a090","#cf9078","#de7a58","#f05030","#ff2a00"]);
function network(o){
 const g=svg.append("g");
 text(g,o.titleX,2053,o.title,{family:SERIF,size:33,weight:"bold",anchor:"middle"});
 const x=d3.scaleLinear().domain([0,3]).range([o.ox,o.ox+1]);
 const y=d3.scaleLinear().domain([0,3]).range([2080,2081]);
 const s=d=>d/3;
 o.genes.forEach(n=>n[4].forEach(h=>{const H=o.hubs[h];
   g.append("line").attr("x1",x(n[0])).attr("y1",y(n[1])).attr("x2",x(H[0])).attr("y2",y(H[1])).attr("stroke","#7590cc").attr("stroke-width",1.4);}));
 g.selectAll(null).data(o.hubs).join("circle").attr("cx",d=>x(d[0])).attr("cy",d=>y(d[1])).attr("r",d=>s(d[2])).attr("fill","#e3c391");
 g.selectAll(null).data(o.genes).join("circle").attr("cx",d=>x(d[0])).attr("cy",d=>y(d[1])).attr("r",7.2).attr("fill",d=>fcColor(d[2]));
 o.genes.forEach(n=>text(g,x(n[0]),y(n[1])+1.6+(n[5]||0),"ENSG00000"+n[3],{family:SERIF,size:4.6,anchor:"middle",fill:"#555"}));
 o.hubs.forEach(h=>text(g,x(h[0]),y(h[1])+1.6,h[3],{family:SERIF,size:4.8,anchor:"middle",fill:"#444"}));
 const id="fc"+o.ox;const lg=svg.append("defs").append("linearGradient").attr("id",id);
 d3.range(0,1.01,.1).forEach(t=>lg.append("stop").attr("offset",t).attr("stop-color",fcColor(o.fd[0]+t*(o.fd[1]-o.fd[0]))));
 g.append("rect").attr("x",o.bar[0]).attr("y",o.bar[2]).attr("width",o.bar[1]-o.bar[0]).attr("height",11.7).attr("fill",`url(#${id})`);
 text(g,(o.bar[0]+o.bar[1])/2,o.bar[2]+1,"Fold Change",{size:11,weight:"bold",anchor:"middle"});
 const lx=d3.scaleLinear().domain(o.fd).range(o.lr);
 o.ticks.forEach(t=>text(g,lx(t),o.bar[2]+18,String(t).replace("-","−"),{size:11,anchor:"middle",fill:"#111"}));
}
network({title:"AMvsUC",titleX:316,ox:100,hubs:amHubs,genes:amGenes,ticks:amFcTicks,fd:[-12,10],lr:[490,545],bar:[485,550,2130]});
network({title:"CMvsUC",titleX:925,ox:680,hubs:cmHubs,genes:cmGenes,ticks:cmFcTicks,fd:[-10,10],lr:[1123,1177],bar:[1116.7,1181,2125.7]});
network({title:"CVvsUC",titleX:1515,ox:1300,hubs:cvHubs,genes:cvGenes,ticks:cvFcTicks,fd:[-10,8],lr:[1711,1755.7],bar:[1705,1762,2128]});
</script></body></html>
